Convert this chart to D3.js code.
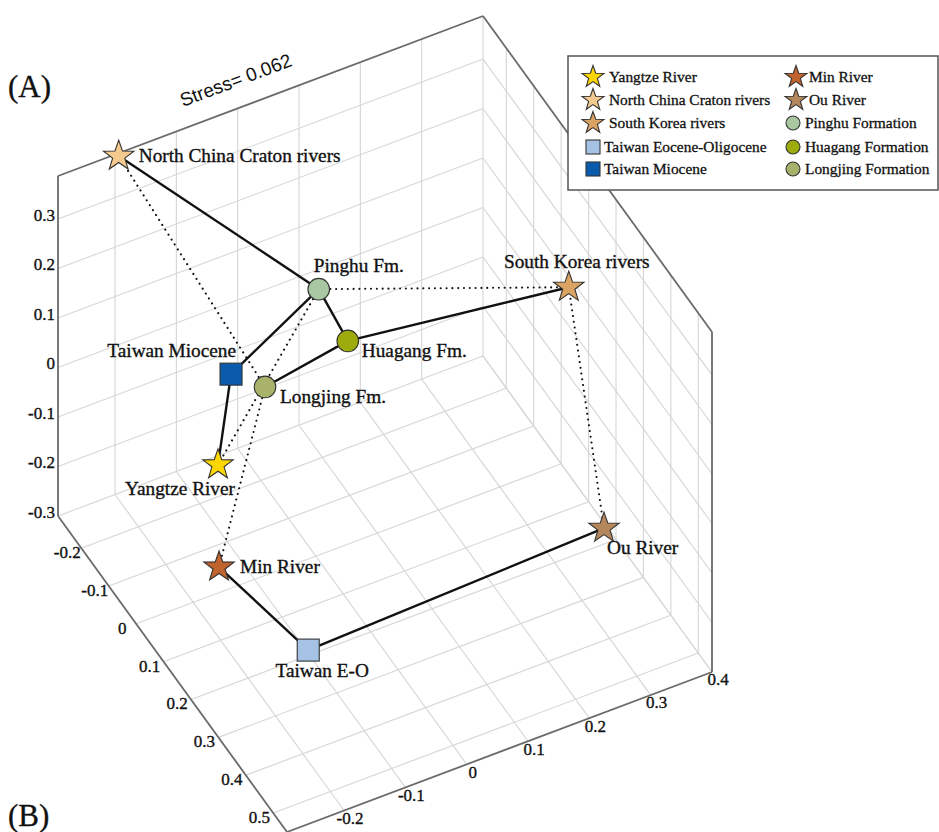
<!DOCTYPE html>
<html><head><meta charset="utf-8">
<script src="https://cdn.jsdelivr.net/npm/d3@7"></script>
<style>body{margin:0;background:#fff}svg{display:block}</style>
</head><body>
<svg id="chart" width="939" height="832"></svg>
<script>
// ---------- data ----------
const names = ["North China Craton rivers","Pinghu Fm.","Huagang Fm.","Longjing Fm.","Taiwan Miocene","Yangtze River","South Korea rivers","Ou River","Min River","Taiwan E-O"];
const xVals = [-0.194, -0.002, 0.023, -0.112, -0.145, -0.211, 0.361, 0.329, -0.254, -0.198];
const yVals = [-0.285, 0.015, 0.065, 0.065, 0.015, 0.115, 0.115, 0.315, 0.215, 0.415];
const zVals = [0.381, 0.252, 0.174, 0.144, 0.147, 0.071, 0.163, -0.156, -0.039, -0.080];
const shapes = ["star","circle","circle","circle","square","star","star","star","star","square"];
const fills = ["#f4ca8e","#a9c8a1","#9dab0d","#a9b26a","#0b5bad","#fdd500","#dba363","#b5875c","#c0632c","#a6c3e6"];
const solidLinks = [[0,1],[1,2],[1,4],[2,6],[2,3],[4,5],[8,9],[9,7]];
const dottedLinks = [[0,3],[1,6],[1,5],[3,8],[6,7]];
const xTicks = [-0.2,-0.1,0,0.1,0.2,0.3,0.4];
const yTicks = [-0.2,-0.1,0,0.1,0.2,0.3,0.4,0.5];
const zTicks = [-0.3,-0.2,-0.1,0,0.1,0.2,0.3];
const xDomain = [-0.293, 0.4];
const yDomain = [-0.285, 0.55];
const zDomain = [-0.3, 0.387];
const stressText = "Stress= 0.062";
const legendNames1 = ["Yangtze River","North China Craton rivers","South Korea rivers","Taiwan Eocene-Oligocene","Taiwan Miocene"];
const legendShapes1 = ["star","star","star","square","square"];
const legendFills1 = ["#fdd500","#f4ca8e","#dba363","#a6c3e6","#0b5bad"];
const legendNames2 = ["Min River","Ou River","Pinghu Formation","Huagang Formation","Longjing Formation"];
const legendShapes2 = ["star","star","circle","circle","circle"];
const legendFills2 = ["#c0632c","#b5875c","#a9c8a1","#9dab0d","#a9b26a"];

// ---------- layout (styling) ----------
const origin = [58, 516];          // (xmin, ymin, zmin)
const EX = [425, -160], EY = [229, 316], EZ = [0, -340];
const fx = d3.scaleLinear().domain(xDomain).range([0,1]);
const fy = d3.scaleLinear().domain(yDomain).range([0,1]);
const fz = d3.scaleLinear().domain(zDomain).range([0,1]);
function P(x,y,z){
  const a=fx(x), b=fy(y), c=fz(z);
  return [origin[0]+a*EX[0]+b*EY[0]+c*EZ[0], origin[1]+a*EX[1]+b*EY[1]+c*EZ[1]];
}
const svg = d3.select("#chart");
const serif = "'Liberation Serif','Times New Roman',serif";
const gridC = "#d5d5d5", edgeC = "#6a6a6a";
const [x0,x1]=xDomain,[y0,y1]=yDomain,[z0,z1]=zDomain;
const line = d3.line();
const g = svg.append("g");
function seg(a,b,color,w){ g.append("path").attr("d",line([a,b])).attr("stroke",color).attr("stroke-width",w).attr("fill","none"); }

// grids: back wall y=y0
xTicks.filter(t=>t<x1).forEach(t=>seg(P(t,y0,z0),P(t,y0,z1),gridC,1.1));
zTicks.forEach(t=>seg(P(x0,y0,t),P(x1,y0,t),gridC,1.1));
// right wall x=x1
yTicks.forEach(t=>seg(P(x1,t,z0),P(x1,t,z1),gridC,1.1));
zTicks.forEach(t=>seg(P(x1,y0,t),P(x1,y1,t),gridC,1.1));
seg(P(x1,y0,z0),P(x1,y0,z1),gridC,1.1);
// floor z=z0
xTicks.forEach(t=>seg(P(t,y0,z0),P(t,y1,z0),gridC,1.1));
yTicks.forEach(t=>seg(P(x0,t,z0),P(x1,t,z0),gridC,1.1));
// box edges
seg(P(x0,y0,z0),P(x0,y0,z1),edgeC,1.8);
seg(P(x0,y0,z1),P(x1,y0,z1),edgeC,1.8);
seg(P(x1,y0,z1),P(x1,y1,z1),edgeC,1.8);
seg(P(x1,y1,z1),P(x1,y1,z0),edgeC,1.8);
seg(P(x0,y0,z0),P(x0,y1,z0),edgeC,1.8);
seg(P(x0,y1,z0),P(x1,y1,z0),edgeC,1.8);

const txtStroke = 0.35;
function styleText(sel,size){ return sel.attr("font-family",serif).attr("font-size",size).attr("fill","#111").attr("stroke","#111").attr("stroke-width",txtStroke); }

// tick labels
const tl = styleText(svg.append("g"),17);
zTicks.forEach(t=>{const p=P(x0,y0,t); tl.append("text").attr("x",p[0]-3).attr("y",p[1]-2).attr("text-anchor","end").attr("dominant-baseline","middle").text(String(t));});
yTicks.forEach(t=>{const p=P(x0,t,z0); tl.append("text").attr("x",p[0]-14).attr("y",p[1]+6).attr("text-anchor","middle").attr("dominant-baseline","middle").text(String(t));});
xTicks.forEach(t=>{const p=P(t,y1,z0); tl.append("text").attr("x",p[0]+6).attr("y",p[1]+9.5).attr("text-anchor","middle").attr("dominant-baseline","middle").text(String(t));});

// stress label
const sp = [183,107];
svg.append("text").attr("transform",`translate(${sp[0]},${sp[1]}) rotate(${Math.atan2(EX[1],EX[0])*180/Math.PI})`)
  .attr("font-family","'Liberation Sans',Arial,sans-serif").attr("font-size",19).attr("fill","#111").text(stressText);
styleText(svg.append("text"),31).attr("x",8).attr("y",97).text("(A)");
styleText(svg.append("text"),31).attr("x",8).attr("y",826).text("(B)");

// links
const pts = names.map((n,i)=>P(xVals[i],yVals[i],zVals[i]));
dottedLinks.forEach(([a,b])=>g.append("path").attr("d",line([pts[a],pts[b]])).attr("stroke","#111").attr("stroke-width",2.1)
  .attr("stroke-linecap","round").attr("stroke-dasharray","0.01 5.8").attr("fill","none"));
solidLinks.forEach(([a,b])=>g.append("path").attr("d",line([pts[a],pts[b]])).attr("stroke","#111").attr("stroke-width",2.4).attr("fill","none"));

// markers
function starPath(R){
  const r=R*0.40, q=[];
  for(let k=0;k<10;k++){const rr=k%2?r:R, a=-Math.PI/2+k*Math.PI/5; q.push([rr*Math.cos(a), rr*Math.sin(a)]);}
  return d3.line()(q)+"Z";
}
function marker(sel,shape,fill,big){
  if(shape==="star") sel.append("path").attr("d",starPath(big?16:11.5)).attr("fill",fill).attr("stroke","#333").attr("stroke-width",1.1);
  else if(shape==="circle") sel.append("circle").attr("r",big?10.8:7).attr("fill",fill).attr("stroke","#333").attr("stroke-width",1.1);
  else {const s=big?22:14; sel.append("rect").attr("x",-s/2).attr("y",-s/2).attr("width",s).attr("height",s).attr("fill",fill).attr("stroke","#333").attr("stroke-width",1.1);}
}
pts.forEach((p,i)=>marker(svg.append("g").attr("transform",`translate(${p[0]},${p[1]})`),shapes[i],fills[i],true));

// point labels
const labelPos = [[20,6,"start"],[-5,-17,"start"],[14,16,"start"],[15,16,"start"],[5,-17,"end"],[-38,30,"middle"],[8,-19,"middle"],[3,26,"start"],[21,6,"start"],[14,27,"middle"]];
const lg = styleText(svg.append("g"),19.3);
pts.forEach((p,i)=>lg.append("text").attr("x",p[0]+labelPos[i][0]).attr("y",p[1]+labelPos[i][1]).attr("text-anchor",labelPos[i][2]).text(names[i]));

// legend
const L = svg.append("g");
L.append("rect").attr("x",568).attr("y",56).attr("width",370).attr("height",134).attr("fill","#fff").attr("stroke","#555").attr("stroke-width",1.5);
const rowY = [77,100,123,147,169];
legendNames1.forEach((n,i)=>{
  marker(L.append("g").attr("transform",`translate(593,${rowY[i]})`),legendShapes1[i],legendFills1[i],false);
  styleText(L.append("text"),15.4).attr("stroke-width",0.3).attr("x",legendShapes1[i]==="star"?609:604).attr("y",rowY[i]+5).text(n);
});
legendNames2.forEach((n,i)=>{
  marker(L.append("g").attr("transform",`translate(${legendShapes2[i]==="star"?796:793},${rowY[i]})`),legendShapes2[i],legendFills2[i],false);
  styleText(L.append("text"),15.4).attr("stroke-width",0.3).attr("x",legendShapes2[i]==="star"?809:805).attr("y",rowY[i]+5).text(n);
});
</script>
</body></html>
